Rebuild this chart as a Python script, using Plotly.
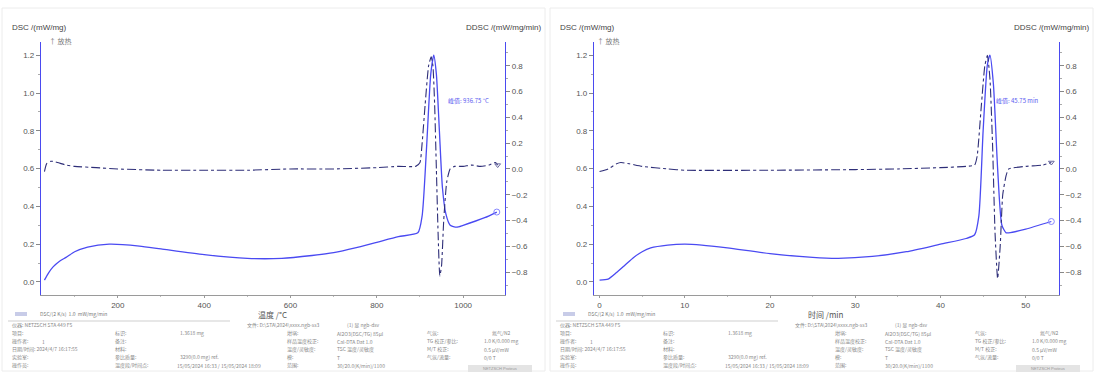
import plotly.graph_objects as go

W, H = 1095, 373

# ---------------- data: left panel (temperature) ----------------
temp_dsc = [30, 40, 50, 65, 80, 100, 130, 180, 250, 300, 400, 500, 580, 650, 700, 750, 800, 850, 895,
            905, 915, 925, 932, 938, 945, 952, 960, 970, 985, 1000, 1050, 1078]
dsc_temp = [0.01, 0.05, 0.08, 0.11, 0.13, 0.16, 0.185, 0.2, 0.19, 0.175, 0.145, 0.125, 0.125, 0.14, 0.155,
            0.18, 0.21, 0.24, 0.26, 0.35, 0.7, 1.1, 1.2, 1.1, 0.8, 0.5, 0.36, 0.3, 0.29, 0.3, 0.34, 0.37]

temp_ddsc = [30, 35, 45, 60, 80, 100, 150, 200, 300, 400, 500, 600, 700, 800, 850, 890, 900, 905, 912, 920,
             926, 930, 934, 938, 942, 946, 950, 955, 962, 970, 980, 1000, 1020, 1040, 1060, 1075, 1080]
ddsc_temp = [-0.02, 0.04, 0.06, 0.05, 0.03, 0.02, 0.01, 0.0, -0.01, -0.01, -0.01, 0.0, 0.0, 0.01, 0.02, 0.02,
             0.05, 0.2, 0.5, 0.8, 0.87, 0.8, 0.5, 0.0, -0.5, -0.83, -0.75, -0.4, -0.1, 0.0, 0.02, 0.02, 0.03,
             0.02, 0.03, 0.05, 0.03]

# ---------------- data: right panel (time) ----------------
time_dsc = [0, 1, 2, 3, 4, 5, 6, 8, 10, 12, 15, 20, 25, 28, 32, 36, 40, 43, 44, 44.5, 45, 45.5, 45.8,
            46.2, 46.7, 47.2, 47.7, 48, 50, 53]
dsc_time = [0.01, 0.015, 0.05, 0.09, 0.13, 0.16, 0.18, 0.195, 0.2, 0.195, 0.18, 0.15, 0.13, 0.125, 0.135,
            0.16, 0.2, 0.23, 0.25, 0.35, 0.8, 1.15, 1.2, 1.05, 0.6, 0.3, 0.26, 0.26, 0.28, 0.32]

time_ddsc = [0, 1, 2, 2.5, 3.5, 5, 8, 10, 20, 30, 35, 40, 43, 44, 44.3, 44.8, 45.2, 45.5, 45.8, 46.1, 46.4,
             46.7, 47.0, 47.3, 47.7, 48, 50, 52, 53]
ddsc_time = [-0.02, 0.0, 0.04, 0.05, 0.04, 0.02, 0.0, -0.01, -0.01, -0.005, 0.0, 0.01, 0.02, 0.03, 0.1, 0.5,
             0.8, 0.88, 0.7, 0.2, -0.5, -0.85, -0.6, -0.2, -0.05, 0.0, 0.02, 0.03, 0.05]

left_ticks = [0.0, 0.2, 0.4, 0.6, 0.8, 1.0, 1.2]
right_ticks = [-0.8, -0.6, -0.4, -0.2, 0.0, 0.2, 0.4, 0.6, 0.8]
temp_ticks = [200, 400, 600, 800, 1000]
time_ticks = [0, 10, 20, 30, 40, 50]

y_title_left = "DSC /(mW/mg)"
y_title_right = "DDSC /(mW/mg/min)"
x_titles = ["温度 /°C", "时间 /min"]
exo_label = "↑ 放热"
peak_labels = ["峰值: 936.75 °C", "峰值: 45.75 min"]
legend_text = "DSC/(2 K/s)  1.0  mW/mg/min"

footer_rows = [
    [(10, "仪器: NETZSCH STA 449 F5"), (245, "文件: D:\\STA\\2024\\xxxx.ngb-ss3"), (345, "(1) 显 ngb-dsv")],
    [(10, "项目:"), (113, "标识:"), (178, "1.3618 mg"), (285, "坩埚:"), (335, "Al2O3(DSC/TG) 85μl"), (425, "气氛:"), (490, "氮气/N2")],
    [(10, "操作者:"), (40, "1"), (113, "备注:"), (285, "样品温度校正:"), (335, "Cal-DTA Dat 1.0"), (425, "TG 校正/参比:"), (482, "1.0 K/0.000 mg")],
    [(10, "日期/时间: 2024/4/7 16:17:55"), (113, "材料:"), (285, "温度/灵敏度:"), (335, "TSC 温度/灵敏度"), (425, "M/T 校正:"), (482, "0.5 μV/mW")],
    [(10, "实验室:"), (113, "参比质量:"), (178, "3290(0.0 mg) ref."), (285, "模:"), (335, "T"), (425, "气氛/流量:"), (482, "0/0 T")],
    [(10, "操作员:"), (113, "温度段/时间点:"), (175, "15/05/2024 16:33 / 15/05/2024 18:09"), (285, "范围:"), (335, "30/20.0(K/min)/1100")],
]

# ---------------- layout geometry (pixels) ----------------
panels = [
    dict(x0=41, x1=505, xrange=[22, 1097], xt=temp_ticks, xd=(temp_dsc, dsc_temp), xdd=(temp_ddsc, ddsc_temp), off=0, title_x=272),
    dict(x0=594, x1=1059, xrange=[-0.65, 53.9], xt=time_ticks, xd=(time_dsc, dsc_time), xdd=(time_ddsc, ddsc_time), off=548, title_x=826),
]
y_top, y_bot = 42, 295

def px(x):
    return x / W

def py(y):
    return 1 - y / H

DSC_COL = "#4a4af2"
DDSC_COL = "#2e2e78"
AX_BLUE = "#4a4af0"
TXT = "#555555"
FONT = "Liberation Sans"

fig = go.Figure()
layout = dict(
    width=W, height=H, margin=dict(l=0, r=0, t=0, b=0),
    paper_bgcolor="white", plot_bgcolor="white", showlegend=False,
    font=dict(family=FONT, size=8, color=TXT),
)

annotations = []
shapes = []

for i, p in enumerate(panels):
    xa = "xaxis" if i == 0 else "xaxis2"
    xref = "x" if i == 0 else "x2"
    ya_l = "yaxis" if i == 0 else "yaxis3"
    ya_r = "yaxis2" if i == 0 else "yaxis4"
    yref_l = "y" if i == 0 else "y3"
    yref_r = "y2" if i == 0 else "y4"
    dom_x = [px(p["x0"]), px(p["x1"])]
    dom_y = [py(y_bot), py(y_top)]

    layout[xa] = dict(domain=dom_x, anchor=yref_l, range=p["xrange"], tickvals=p["xt"],
                      showline=True, linecolor="#9a9a9a", linewidth=1, ticks="outside", ticklen=2,
                      tickcolor="#9a9a9a", showgrid=False, zeroline=False,
                      tickfont=dict(size=8, color=TXT, family=FONT),
                      minor=dict(ticks="outside", ticklen=1, tickcolor="#bbbbbb", dtick=(100 if i == 0 else 5)))
    layout[ya_l] = dict(domain=dom_y, anchor=xref, range=[-0.069, 1.27], tickvals=left_ticks,
                        tickformat=".1f", showline=True, linecolor=AX_BLUE, linewidth=1.2,
                        ticks="outside", ticklen=4, tickcolor="#888888", showgrid=False, zeroline=False,
                        tickfont=dict(size=8, color=TXT, family=FONT),
                        minor=dict(ticks="outside", ticklen=2, tickcolor="#aaaaaa", dtick=0.1))
    layout[ya_r] = dict(overlaying=yref_l, side="right", anchor=xref, range=[-0.977, 0.984],
                        tickvals=right_ticks, tickformat=".1f", showline=True, linecolor=AX_BLUE,
                        linewidth=1.2, ticks="outside", ticklen=4, tickcolor="#888888", showgrid=False,
                        zeroline=False, tickfont=dict(size=8, color=TXT, family=FONT),
                        minor=dict(ticks="outside", ticklen=2, tickcolor="#aaaaaa", dtick=0.1))

    xs, ys = p["xd"]
    fig.add_trace(go.Scatter(x=xs, y=ys, mode="lines", line=dict(color=DSC_COL, width=1.3, shape="spline", smoothing=0.6),
                             xaxis=xref, yaxis=yref_l))
    fig.add_trace(go.Scatter(x=[xs[-1]], y=[ys[-1]], mode="markers",
                             marker=dict(symbol="circle-open", size=6, color="#8888ff"),
                             xaxis=xref, yaxis=yref_l))
    xs2, ys2 = p["xdd"]
    fig.add_trace(go.Scatter(x=xs2, y=ys2, mode="lines",
                             line=dict(color=DDSC_COL, width=1.1, dash="dashdot", shape="spline", smoothing=0.5),
                             xaxis=xref, yaxis=yref_r))
    fig.add_trace(go.Scatter(x=[xs2[-1]], y=[ys2[-1]], mode="markers",
                             marker=dict(symbol="triangle-down-open", size=5, color="#6a6aa0"),
                             xaxis=xref, yaxis=yref_r))

    off = p["off"]
    # frame around panel
    shapes.append(dict(type="rect", xref="paper", yref="paper", x0=px(off + 2), x1=px(off + 545),
                       y0=py(371), y1=py(8), line=dict(color="#ececec", width=1)))
    # titles
    annotations.append(dict(x=px(off + 10), y=py(27), xref="paper", yref="paper", text=y_title_left,
                            showarrow=False, xanchor="left", yanchor="middle",
                            font=dict(size=8, color="#444", family=FONT)))
    annotations.append(dict(x=px(off + 543), y=py(27), xref="paper", yref="paper", text=y_title_right,
                            showarrow=False, xanchor="right", yanchor="middle",
                            font=dict(size=8, color="#444", family=FONT)))
    annotations.append(dict(x=px(off + 47), y=py(41), xref="paper", yref="paper", text=exo_label,
                            showarrow=False, xanchor="left", yanchor="middle",
                            font=dict(size=7, color="#777", family="Noto Sans CJK SC")))
    annotations.append(dict(x=px(p["title_x"]), y=py(314), xref="paper", yref="paper",
                            text=x_titles[i], showarrow=False, xanchor="center", yanchor="middle",
                            font=dict(size=8, color="#555", family="Noto Sans CJK SC")))
    annotations.append(dict(x=px(off + 446), y=py(101), xref="paper", yref="paper", text=peak_labels[i],
                            showarrow=False, xanchor="left", yanchor="middle",
                            font=dict(size=6, color="#5a5af0", family="Noto Sans CJK SC")))
    # legend sample
    shapes.append(dict(type="rect", xref="paper", yref="paper", x0=px(off + 15), x1=px(off + 27),
                       y0=py(316), y1=py(312), fillcolor="#c8cce8", line=dict(width=0)))
    annotations.append(dict(x=px(off + 38), y=py(314), xref="paper", yref="paper", text=legend_text,
                            showarrow=False, xanchor="left", yanchor="middle",
                            font=dict(size=5, color="#777", family="Noto Sans CJK SC")))
    shapes.append(dict(type="line", xref="paper", yref="paper", x0=px(off + 8), x1=px(off + 230),
                       y0=py(321), y1=py(321), line=dict(color="#cfcfcf", width=1)))
    # footer
    for r, row in enumerate(footer_rows):
        yy = 325 + r * 8
        for (fx, ftxt) in row:
            annotations.append(dict(x=px(off + fx), y=py(yy), xref="paper", yref="paper", text=ftxt,
                                    showarrow=False, xanchor="left", yanchor="middle",
                                    font=dict(size=5, color="#888", family="Noto Sans CJK SC")))
    shapes.append(dict(type="rect", xref="paper", yref="paper", x0=px(off + 468), x1=px(off + 532),
                       y0=py(372), y1=py(365), fillcolor="#e4e4e4", line=dict(width=0)))
    annotations.append(dict(x=px(off + 500), y=py(368.5), xref="paper", yref="paper", text="NETZSCH Proteus",
                            showarrow=False, xanchor="center", yanchor="middle",
                            font=dict(size=4, color="#999", family=FONT)))

layout["annotations"] = annotations
layout["shapes"] = shapes
fig.update_layout(**layout)
fig.write_html("out.html")
